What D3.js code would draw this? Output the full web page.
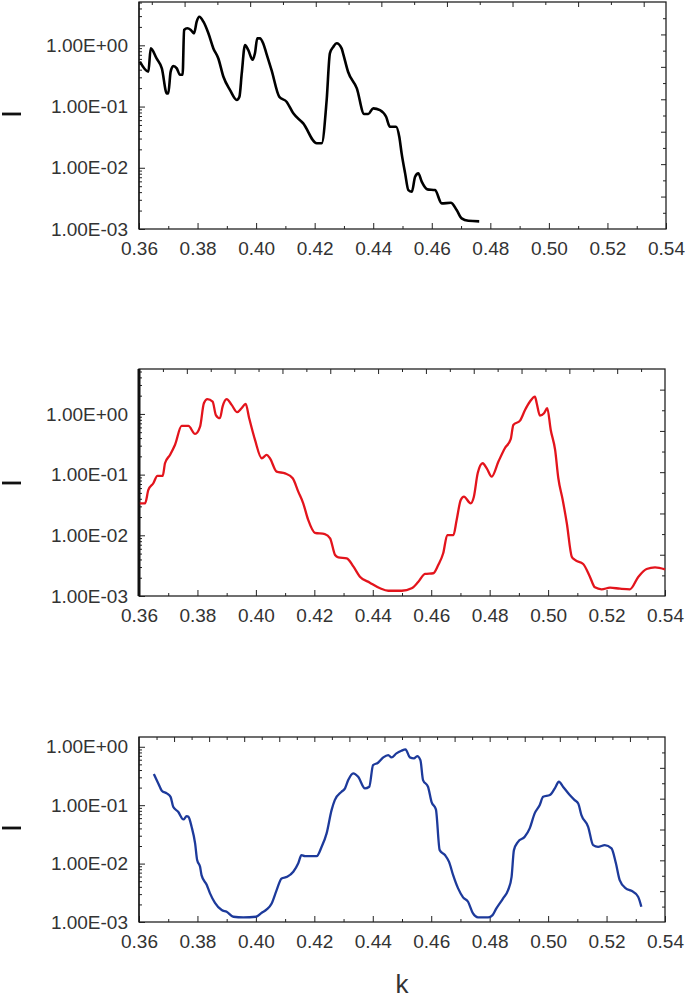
<!DOCTYPE html>
<html>
<head>
<meta charset="utf-8">
<script src="https://cdn.jsdelivr.net/npm/d3@7"></script>
<style>
  body { margin: 0; background: #fff; }
  svg { display: block; }
  text { font-family: "Liberation Sans", Arial, sans-serif; }
</style>
</head>
<body>
<svg id="canvas"></svg>
<script>
// values: k and amplitude (log scale)
const kBlack = [0.3603, 0.3632, 0.3640, 0.3660, 0.3678, 0.3695, 0.3700, 0.3708, 0.3717, 0.3729,
  0.3740, 0.3749, 0.3754, 0.3765, 0.3777, 0.3788, 0.3797, 0.3806, 0.3820, 0.3837,
  0.3854, 0.3871, 0.3888, 0.3911, 0.3934, 0.3943, 0.3951, 0.3962, 0.3973, 0.3988,
  0.3996, 0.4004, 0.4013, 0.4024, 0.4035, 0.4053, 0.4079, 0.4104, 0.4127, 0.4161,
  0.4207, 0.4224, 0.4241, 0.4252, 0.4264, 0.4275, 0.4292, 0.4297, 0.4314, 0.4344,
  0.4369, 0.4383, 0.4400, 0.4423, 0.4444, 0.4457, 0.4478, 0.4489, 0.4497, 0.4509,
  0.4520, 0.4532, 0.4543, 0.4554, 0.4566, 0.4585, 0.4611, 0.4634, 0.4665, 0.4685,
  0.4702, 0.4725, 0.4762];
const vBlack = [0.54, 0.37, 0.89, 0.61, 0.42, 0.164, 0.164, 0.37, 0.46, 0.42,
  0.33, 0.33, 1.78, 1.90, 1.78, 1.57, 2.43, 2.93, 2.43, 1.57,
  0.89, 0.61, 0.31, 0.186, 0.128, 0.145, 0.35, 1.01, 0.84, 0.58,
  0.74, 1.30, 1.30, 1.08, 0.74, 0.39, 0.145, 0.120, 0.0774, 0.0531,
  0.0251, 0.0251, 0.128, 0.74, 0.95, 1.08, 0.89, 0.74, 0.37, 0.198,
  0.0754, 0.0754, 0.0935, 0.0877, 0.0681, 0.0468, 0.0468, 0.0321, 0.0172, 0.0081,
  0.00432, 0.00406, 0.00713, 0.0081, 0.0059, 0.00444, 0.00432, 0.00262, 0.00268, 0.00204,
  0.00149, 0.00136, 0.00133];

const kRed = [0.3603, 0.3621, 0.3632, 0.3649, 0.3663, 0.3681, 0.3689, 0.3706, 0.3723, 0.3746,
  0.3769, 0.3792, 0.3809, 0.3822, 0.3834, 0.3852, 0.3863, 0.3877, 0.3886, 0.3900,
  0.3917, 0.3936, 0.3951, 0.3965, 0.3977, 0.3997, 0.4020, 0.4037, 0.4048, 0.4071,
  0.4100, 0.4126, 0.4145, 0.4162, 0.4179, 0.4202, 0.4236, 0.4254, 0.4271, 0.4282,
  0.4311, 0.4334, 0.4356, 0.4390, 0.4425, 0.4453, 0.4499, 0.4533, 0.4556, 0.4579,
  0.4607, 0.4624, 0.4641, 0.4655, 0.4676, 0.4687, 0.4701, 0.4712, 0.4735, 0.4746,
  0.4759, 0.4776, 0.4790, 0.4807, 0.4830, 0.4852, 0.4872, 0.4881, 0.4904, 0.4921,
  0.4938, 0.4955, 0.4961, 0.4972, 0.4986, 0.4997, 0.5009, 0.5024, 0.5035, 0.5050,
  0.5064, 0.5081, 0.5092, 0.5120, 0.5143, 0.5160, 0.5183, 0.5212, 0.5246, 0.5280,
  0.5309, 0.5337, 0.5366, 0.5400];
const vRed = [0.0337, 0.0337, 0.0559, 0.0721, 0.0951, 0.0951, 0.154, 0.211, 0.308, 0.634,
  0.634, 0.468, 0.618, 1.50, 1.75, 1.60, 0.96, 0.85, 1.32, 1.75,
  1.41, 1.07, 1.24, 1.46, 0.85, 0.373, 0.186, 0.211, 0.186, 0.112,
  0.105, 0.0871, 0.0524, 0.0337, 0.0179, 0.0110, 0.0105, 0.00893, 0.00474, 0.00434,
  0.00418, 0.00304, 0.00208, 0.00166, 0.00134, 0.00122, 0.00122, 0.00134, 0.00172, 0.00231,
  0.00237, 0.00324, 0.00506, 0.0101, 0.0101, 0.0179, 0.0382, 0.0433, 0.0337, 0.0433,
  0.105, 0.154, 0.127, 0.0926, 0.164, 0.272, 0.383, 0.659, 0.776, 1.16,
  1.60, 1.93, 1.50, 0.94, 1.03, 1.24, 0.545, 0.255, 0.0871, 0.0382,
  0.0158, 0.00445, 0.00393, 0.00337, 0.00208, 0.00139, 0.00129, 0.00137, 0.00132, 0.00129,
  0.00208, 0.00279, 0.00297, 0.00275];

const kBlue = [0.3651, 0.3666, 0.3678, 0.3695, 0.3708, 0.3717, 0.3734, 0.3752, 0.3763, 0.3769,
  0.3780, 0.3792, 0.3799, 0.3809, 0.3814, 0.3832, 0.3843, 0.3860, 0.3883, 0.3900,
  0.3923, 0.3957, 0.4000, 0.4020, 0.4037, 0.4054, 0.4071, 0.4088, 0.4107, 0.4128,
  0.4145, 0.4156, 0.4168, 0.4208, 0.4225, 0.4242, 0.4259, 0.4270, 0.4293, 0.4305,
  0.4316, 0.4333, 0.4350, 0.4373, 0.4388, 0.4401, 0.4418, 0.4436, 0.4453, 0.4464,
  0.4481, 0.4498, 0.4512, 0.4527, 0.4541, 0.4552, 0.4563, 0.4572, 0.4589, 0.4601,
  0.4616, 0.4629, 0.4647, 0.4661, 0.4675, 0.4692, 0.4709, 0.4726, 0.4743, 0.4760,
  0.4795, 0.4810, 0.4823, 0.4846, 0.4863, 0.4875, 0.4883, 0.4897, 0.4920, 0.4937,
  0.4954, 0.4971, 0.4983, 0.5006, 0.5023, 0.5037, 0.5051, 0.5074, 0.5091, 0.5103,
  0.5114, 0.5137, 0.5154, 0.5171, 0.5194, 0.5217, 0.5232, 0.5245, 0.5266, 0.5285,
  0.5308, 0.5319];
const vBlue = [0.341, 0.236, 0.177, 0.159, 0.139, 0.094, 0.0771, 0.0571, 0.065, 0.0633,
  0.0427, 0.0222, 0.0115, 0.00881, 0.00635, 0.00429, 0.00309, 0.00213, 0.0016, 0.0015,
  0.00123, 0.0012, 0.00123, 0.00144, 0.00164, 0.00208, 0.00352, 0.00558, 0.00594, 0.00724,
  0.0101, 0.014, 0.0134, 0.0134, 0.0194, 0.0329, 0.0824, 0.122, 0.17, 0.194,
  0.269, 0.351, 0.306, 0.194, 0.207, 0.486, 0.532, 0.658, 0.721, 0.658,
  0.771, 0.855, 0.902, 0.658, 0.633, 0.693, 0.592, 0.269, 0.207, 0.114,
  0.0848, 0.017, 0.014, 0.0107, 0.00635, 0.00376, 0.00264, 0.00222, 0.0014, 0.0012,
  0.0012, 0.00131, 0.00171, 0.00254, 0.00352, 0.00594, 0.017, 0.0236, 0.0288, 0.0401,
  0.0724, 0.1, 0.139, 0.149, 0.194, 0.252, 0.207, 0.149, 0.122, 0.107,
  0.0677, 0.0427, 0.0207, 0.0194, 0.0207, 0.0182, 0.0101, 0.00521, 0.00376, 0.00342,
  0.0027, 0.00182];

const xTicks = [0.36, 0.38, 0.40, 0.42, 0.44, 0.46, 0.48, 0.50, 0.52, 0.54];
const yTicks = [1e-3, 1e-2, 1e-1, 1];
const yTickLabels = ["1.00E-03", "1.00E-02", "1.00E-01", "1.00E+00"];
const xLabel = "k";

const width = 685;
const height = 1006;

const canvas = d3.select("#canvas");
canvas.attr("width", width).attr("height", height);

const panels = [
  { k: kBlack, v: vBlack, color: "#000000", lw: 2.6, top: 2, bottom: 229, left: 139, right: 666,
    yMax: 5.1, dashY: 114, leftW: 1.2,
    topDomain: [-0.39, 15.68], topTicks: d3.range(0, 16), topLong: 1,
    rightN: 14 },
  { k: kRed, v: vRed, color: "#e3141c", lw: 2.3, top: 369, bottom: 596, left: 139, right: 665,
    yMax: 5.5, dashY: 483, leftW: 3,
    topDomain: [0, 22], topTicks: d3.range(1, 22), topLong: 0,
    rightN: 11 },
  { k: kBlue, v: vBlue, color: "#1d3a9b", lw: 2.3, top: 737, bottom: 922, left: 139, right: 665,
    yMax: 1.47, dashY: 828, leftW: 1.2,
    topDomain: [0, 30], topTicks: d3.range(1, 30), topLong: 0,
    rightN: 12 }
];

const styleAxis = (g) => {
  g.select(".domain").remove();
  g.selectAll(".tick line").attr("stroke", "#222").attr("stroke-width", 1);
  g.selectAll(".tick text").attr("fill", "#333").style("font-size", "19px");
};

panels.forEach((p) => {
  const xScale = d3.scaleLinear().domain([0.36, 0.54]).range([p.left, p.right]);
  const yScale = d3.scaleLog().domain([1e-3, p.yMax]).range([p.bottom, p.top]);

  // minor log ticks
  const minor = [];
  [1e-3, 1e-2, 1e-1, 1].forEach((d) => {
    for (let m = 2; m <= 9; m++) if (d * m < p.yMax) minor.push(d * m);
  });

  canvas.append("g")
    .attr("transform", `translate(${p.left},0)`)
    .call(d3.axisLeft(yScale).tickValues(minor).tickSize(-3).tickFormat(""))
    .call(styleAxis);

  canvas.append("g")
    .attr("transform", `translate(${p.left},0)`)
    .call(d3.axisLeft(yScale).tickValues(yTicks).tickSize(-6).tickPadding(11)
      .tickFormat((d, i) => yTickLabels[i]))
    .call(styleAxis);

  // bottom axis
  canvas.append("g")
    .attr("transform", `translate(0,${p.bottom})`)
    .call(d3.axisBottom(xScale).tickValues(d3.range(0.37, 0.54, 0.02)).tickSize(-3).tickFormat(""))
    .call(styleAxis);

  canvas.append("g")
    .attr("transform", `translate(0,${p.bottom})`)
    .call(d3.axisBottom(xScale).tickValues(xTicks).tickSize(-6).tickPadding(13)
      .tickFormat(d3.format(".2f")))
    .call(styleAxis);

  // top secondary axis
  const topScale = d3.scaleLinear().domain(p.topDomain).range([p.left, p.right]);
  canvas.append("g")
    .attr("transform", `translate(0,${p.top})`)
    .call(d3.axisTop(topScale).tickValues(p.topTicks).tickSize(0).tickFormat(""))
    .call(styleAxis)
    .selectAll(".tick line")
    .attr("y2", (d) => (d % 2 === p.topLong ? 5 : 3));

  // right secondary axis
  const rightScale = d3.scaleLinear().domain([0, p.rightN]).range([p.bottom, p.top]);
  canvas.append("g")
    .attr("transform", `translate(${p.right},0)`)
    .call(d3.axisRight(rightScale).tickValues(d3.range(1, p.rightN)).tickSize(0).tickFormat(""))
    .call(styleAxis)
    .selectAll(".tick line")
    .attr("x2", (d) => (d % 2 === 0 ? -5 : -3));

  // frame
  canvas.append("rect")
    .attr("x", p.left).attr("y", p.top)
    .attr("width", p.right - p.left).attr("height", p.bottom - p.top)
    .attr("fill", "none").attr("stroke", "#222").attr("stroke-width", 1.3);

  canvas.append("line")
    .attr("x1", p.left).attr("x2", p.left)
    .attr("y1", p.top).attr("y2", p.bottom)
    .attr("stroke", "#111").attr("stroke-width", p.leftW);

  // data line
  const line = d3.line()
    .curve(d3.curveMonotoneX)
    .x((d) => xScale(d[0]))
    .y((d) => yScale(d[1]));

  canvas.append("path")
    .datum(p.k.map((k, i) => [k, p.v[i]]))
    .attr("d", line)
    .attr("fill", "none")
    .attr("stroke", p.color)
    .attr("stroke-width", p.lw)
    .attr("stroke-linejoin", "round");

  // short dash left of the axis (remnant of a y title)
  canvas.append("path")
    .attr("d", `M2,${p.dashY}H21`)
    .attr("stroke", "#111")
    .attr("stroke-width", 2.8)
    .attr("fill", "none");
});

canvas.append("text")
  .attr("x", 402).attr("y", 993)
  .attr("text-anchor", "middle")
  .attr("fill", "#333")
  .style("font-size", "26px")
  .text(xLabel);
</script>
</body>
</html>
